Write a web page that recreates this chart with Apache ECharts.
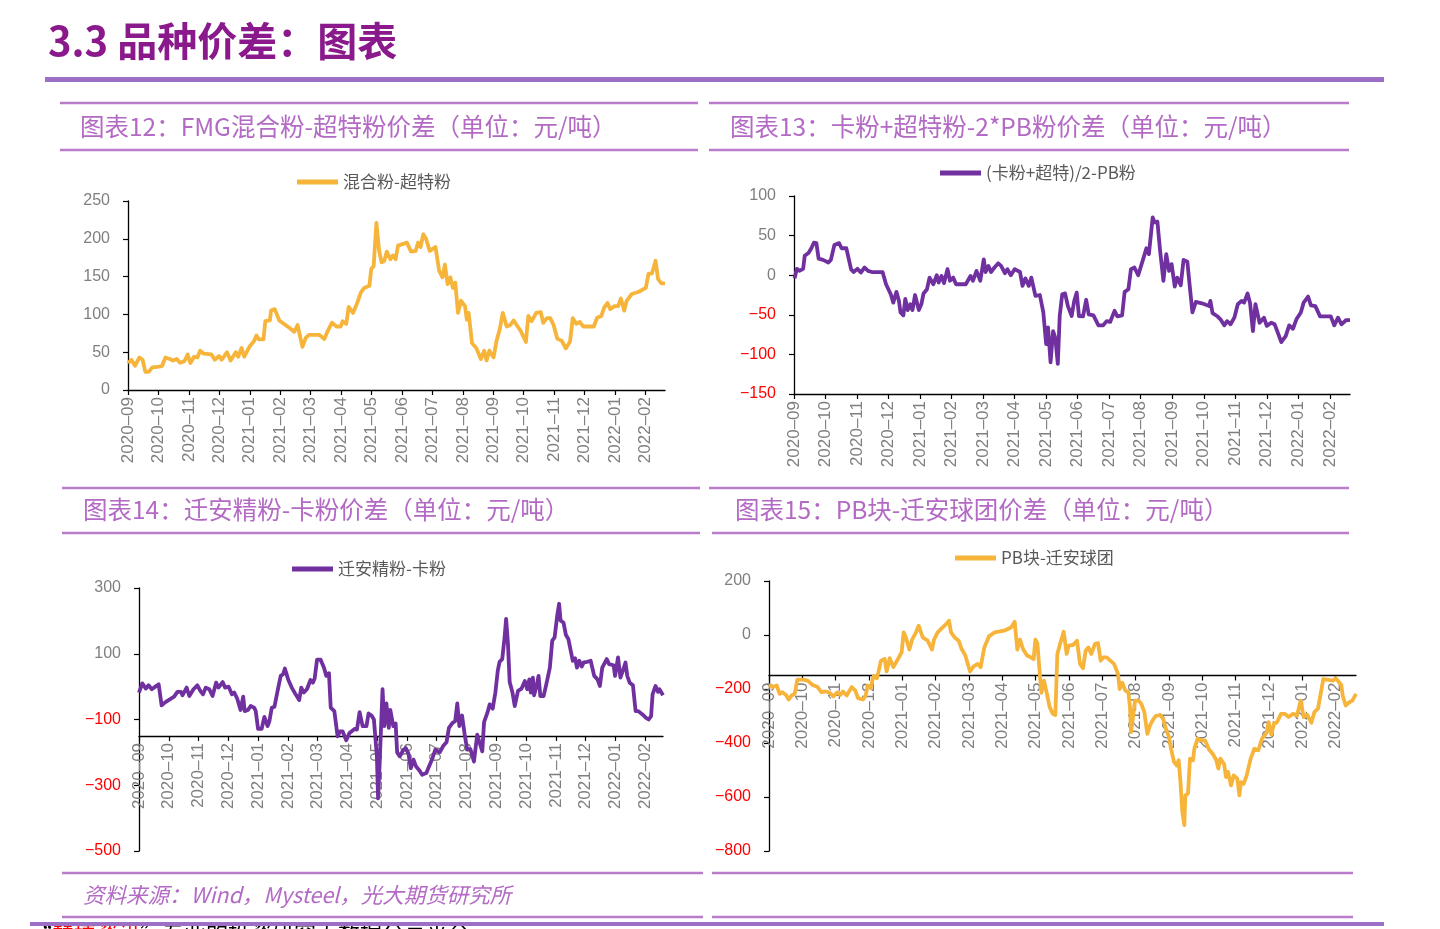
<!DOCTYPE html>
<html><head><meta charset="utf-8">
<script src="https://cdn.jsdelivr.net/npm/echarts@6/dist/echarts.min.js"></script>
<style>html,body{margin:0;padding:0;background:#fff}#c{width:1440px;height:929px}</style>
</head><body><div id="c"></div>
<script>
// ---------- data ----------
const monthLabels = ['2020-09','2020-10','2020-11','2020-12','2021-01','2021-02','2021-03','2021-04','2021-05','2021-06','2021-07','2021-08','2021-09','2021-10','2021-11','2021-12','2022-01','2022-02'];
// x = months since 2020-09-01, y = 元/吨
const mixMinusSuper = [[0,35.5],[0.11,40],[0.23,32],[0.37,43],[0.48,40],[0.57,24],[0.68,24],[0.80,30],[1.03,31],[1.12,32],[1.23,43],[1.37,41],[1.48,39],[1.60,41],[1.71,36],[1.85,38],[1.96,47],[2.05,35.5],[2.17,44],[2.28,43],[2.37,52],[2.49,48],[2.74,47],[2.85,40],[2.99,45],[3.08,40],[3.25,50],[3.37,39],[3.54,50],[3.62,44],[3.73,55.5],[3.82,44],[4.00,58],[4.13,64],[4.22,72],[4.30,67],[4.45,67],[4.51,91],[4.66,92],[4.70,105],[4.82,107],[4.97,92],[5.14,87],[5.31,82],[5.46,77],[5.57,86],[5.73,57],[5.84,69],[5.94,73],[6.28,73],[6.45,67.5],[6.56,78],[6.70,89],[6.85,84],[6.99,84],[7.05,91],[7.17,87.5],[7.25,110],[7.39,102],[7.51,113],[7.65,129],[7.76,135],[7.93,138],[7.99,160],[8.07,164],[8.16,221],[8.25,184],[8.33,169],[8.42,171],[8.50,183],[8.62,173],[8.70,178],[8.79,173],[8.87,191],[9.02,193],[9.16,195],[9.30,183],[9.45,184],[9.53,195],[9.61,189],[9.70,206],[9.79,200],[9.91,184],[10.10,189],[10.22,158],[10.33,149],[10.41,166],[10.50,140],[10.59,149],[10.67,135],[10.75,142],[10.84,102],[10.94,118],[11.07,111],[11.13,93],[11.19,102],[11.30,62],[11.44,55.5],[11.59,41],[11.70,52],[11.78,39],[11.87,52],[12.01,43],[12.10,64],[12.21,80],[12.31,102],[12.44,84],[12.56,86],[12.67,92],[12.90,78],[13.07,63.5],[13.15,98],[13.26,91],[13.41,102],[13.56,103],[13.64,89],[13.76,95],[13.87,95],[13.98,86],[14.10,68],[14.25,65],[14.38,55],[14.52,64],[14.61,95],[14.73,87.5],[14.84,90],[14.95,84],[15.30,84],[15.41,95.5],[15.55,98],[15.64,109],[15.75,115],[15.84,107],[15.98,111],[16.10,111],[16.19,121],[16.30,105],[16.38,118],[16.55,127],[16.78,130],[17.01,135],[17.10,154],[17.21,154],[17.33,171],[17.41,147],[17.52,141],[17.64,141]];
const kaSuperMinusPb = [[0.02,-4],[0.09,8],[0.17,5.5],[0.29,8],[0.34,24.5],[0.46,28],[0.55,34],[0.63,41],[0.71,40.5],[0.78,21],[0.92,19.4],[1.09,16],[1.17,19.4],[1.28,38],[1.43,40.5],[1.51,34],[1.66,34],[1.74,20],[1.81,7.6],[1.89,4],[2.01,8],[2.12,3.4],[2.24,9.7],[2.35,5.5],[2.47,4],[2.81,4],[2.92,-11.4],[3.07,-24],[3.15,-34.6],[3.25,-21],[3.33,-32.5],[3.38,-47],[3.47,-50.7],[3.53,-30],[3.61,-44],[3.69,-36.7],[3.76,-44],[3.84,-25],[3.96,-44],[4.04,-36.7],[4.11,-23],[4.22,-17.7],[4.30,-3],[4.42,-11.4],[4.53,0],[4.59,-9.3],[4.68,-1],[4.76,-10],[4.87,7.6],[4.95,-7],[5.05,-3],[5.14,-11.4],[5.45,-11.4],[5.60,-1],[5.68,-7],[5.79,5.5],[5.91,-7],[6.02,20],[6.08,4],[6.17,11.8],[6.25,4],[6.36,9.7],[6.48,15],[6.57,11.8],[6.69,2.5],[6.77,7.6],[6.88,0],[7.00,7.6],[7.17,4],[7.25,-13.5],[7.34,-4],[7.45,-13.5],[7.53,-3],[7.66,-26],[7.80,-25],[7.91,-47],[8.00,-87],[8.06,-66],[8.14,-110],[8.22,-70.5],[8.29,-79],[8.37,-112],[8.43,-51.5],[8.51,-24],[8.60,-23],[8.69,-39],[8.81,-51.5],[8.89,-32.5],[8.97,-22],[9.04,-51.5],[9.17,-52],[9.27,-31],[9.35,-49.4],[9.50,-50.7],[9.66,-63.3],[9.81,-63.3],[9.92,-58],[10.03,-59],[10.17,-45],[10.26,-52],[10.41,-50.7],[10.49,-21],[10.61,-17.7],[10.69,7.6],[10.80,9.7],[10.92,0],[11.07,19.4],[11.18,34],[11.26,26.6],[11.38,73],[11.44,66.7],[11.53,67.6],[11.61,33],[11.72,-7],[11.81,26.6],[11.90,5.5],[11.98,14],[12.08,-14.4],[12.16,-3],[12.27,-12.7],[12.36,19.4],[12.48,17],[12.56,-15.6],[12.64,-47],[12.75,-33.8],[12.94,-35.5],[13.17,-39],[13.21,-32.5],[13.28,-48],[13.42,-51.5],[13.53,-55.7],[13.65,-63.3],[13.74,-58],[13.85,-62],[13.97,-53.6],[14.08,-36.7],[14.20,-32.5],[14.28,-34.6],[14.39,-23],[14.47,-35.5],[14.56,-70.5],[14.64,-36.7],[14.77,-60],[14.91,-53.6],[15.00,-64],[15.14,-60],[15.25,-62],[15.37,-74.7],[15.46,-84.5],[15.60,-77],[15.71,-63.3],[15.83,-67.6],[15.94,-55.7],[16.08,-47],[16.17,-34.6],[16.31,-27],[16.40,-38],[16.54,-39],[16.69,-52],[17.03,-52],[17.14,-63.3],[17.26,-53.6],[17.37,-62],[17.52,-56.6],[17.64,-56.6]];
const qianAnMinusKa = [[0,-18],[0.11,10],[0.23,-6],[0.32,4],[0.43,-8],[0.55,0],[0.66,7],[0.76,-57],[0.89,-47],[1.06,-37],[1.18,-30.6],[1.29,-16],[1.41,-16],[1.46,-26.5],[1.60,-3],[1.69,-28.6],[1.83,-8],[1.96,4],[2.06,-13],[2.15,-23.5],[2.24,-3],[2.36,-8],[2.47,-28.6],[2.59,12],[2.67,-3],[2.81,14],[2.89,-3],[3.01,0],[3.12,-23.5],[3.20,-18],[3.30,-37],[3.41,-71],[3.50,-30.6],[3.55,-74.5],[3.66,-71],[3.75,-59],[3.87,-64],[3.92,-74.5],[4.00,-128.6],[4.12,-128.6],[4.21,-92],[4.32,-120],[4.38,-105],[4.46,-64],[4.55,-61],[4.67,-6],[4.76,32.7],[4.84,37.8],[4.90,55],[5.01,22],[5.13,-3],[5.26,-23.5],[5.38,-41],[5.45,-3],[5.53,-18],[5.64,-8],[5.76,20],[5.84,12],[5.90,24.5],[5.98,82],[6.10,82],[6.21,58],[6.29,32.7],[6.38,41],[6.44,-64],[6.56,-74.5],[6.67,-151],[6.75,-136],[6.84,-136],[6.96,-163],[7.07,-141],[7.24,-128.6],[7.32,-130.6],[7.41,-77.6],[7.51,-120],[7.56,-115],[7.64,-120],[7.71,-81.6],[7.81,-87.7],[7.89,-100],[7.99,-212],[8.03,-340],[8.08,-242],[8.14,-100],[8.18,-8],[8.24,-120],[8.31,-51],[8.39,-125.5],[8.44,-71],[8.54,-120],[8.62,-112],[8.67,-200],[8.76,-212],[8.88,-192],[8.96,-187],[9.05,-204],[9.13,-248],[9.22,-222],[9.30,-242],[9.42,-255],[9.51,-268],[9.65,-263],[9.73,-245],[9.84,-222],[9.95,-192],[10.10,-200],[10.22,-180],[10.33,-169],[10.41,-125.5],[10.53,-110],[10.62,-105],[10.69,-51],[10.76,-120],[10.85,-88],[10.94,-146],[11.02,-190],[11.13,-190],[11.25,-228],[11.36,-146],[11.44,-171],[11.53,-197],[11.59,-108],[11.70,-80],[11.78,-54],[11.88,-67],[11.97,-18],[12.05,48],[12.11,75.5],[12.20,83.7],[12.28,150],[12.33,206],[12.39,134.7],[12.45,14],[12.54,-16],[12.62,-59],[12.73,-13],[12.85,-6],[12.96,17],[13.04,-8],[13.11,22],[13.16,-18],[13.23,27.5],[13.27,-26.5],[13.36,4],[13.42,32.7],[13.48,-28.6],[13.59,-28.6],[13.68,7],[13.80,58],[13.88,140],[13.96,150],[14.05,218],[14.11,252],[14.16,201],[14.26,194],[14.34,157],[14.42,145],[14.57,78.6],[14.65,86],[14.71,58],[14.79,78.6],[14.87,61],[14.94,73.5],[15.06,75.5],[15.17,78.6],[15.29,32.7],[15.40,22],[15.48,2],[15.56,58],[15.71,83.7],[15.79,68.4],[15.94,65],[15.99,32.7],[16.09,89],[16.17,27.5],[16.25,48],[16.34,73.5],[16.40,32.7],[16.48,12],[16.59,4],[16.68,-74.5],[16.77,-74.5],[16.91,-84.7],[17.03,-95],[17.12,-100],[17.20,-90],[17.25,-23.5],[17.35,2],[17.43,-16],[17.48,-8],[17.60,-26.5]];
const pbMinusPellet = [[0,-185],[0.11,-193],[0.23,-187],[0.32,-218],[0.40,-212],[0.51,-222],[0.59,-239],[0.68,-224],[0.77,-218],[0.85,-165],[1.02,-165],[1.16,-169],[1.31,-185],[1.46,-193],[1.57,-212],[1.71,-209],[1.82,-214],[1.93,-227],[2.05,-212],[2.14,-222],[2.22,-209],[2.33,-224],[2.48,-193],[2.59,-206],[2.67,-234],[2.82,-239],[2.90,-224],[2.96,-187],[3.05,-197],[3.13,-153],[3.24,-160],[3.36,-95],[3.47,-89],[3.53,-135],[3.62,-86],[3.73,-119],[3.87,-89],[3.98,-64],[4.04,10],[4.12,-15],[4.21,-54],[4.30,-15],[4.41,10],[4.49,34.5],[4.61,-9],[4.76,-21],[4.89,-54],[4.95,-17],[5.06,10],[5.21,28],[5.32,41],[5.40,53],[5.46,10],[5.57,-9],[5.69,-21],[5.78,-52],[5.89,-76],[6.03,-135],[6.14,-116],[6.26,-107],[6.35,-119],[6.46,-46],[6.60,-5],[6.77,10],[7.05,16],[7.26,28],[7.37,49],[7.45,-54],[7.53,-17],[7.62,-52],[7.74,-76],[7.85,-82.5],[7.94,-89],[7.99,-17],[8.05,-30],[8.17,-214],[8.25,-169],[8.33,-214],[8.42,-267],[8.51,-292],[8.59,-296],[8.65,-70],[8.76,-21],[8.84,12],[8.93,-70],[8.99,-39],[9.12,-37],[9.24,-21],[9.33,-107],[9.42,-123],[9.50,-58],[9.58,-46],[9.67,-70],[9.78,-33],[9.87,-30],[9.95,-95],[10.03,-82.5],[10.13,-82.5],[10.24,-95],[10.35,-107],[10.47,-144],[10.52,-200],[10.60,-177],[10.69,-206],[10.78,-212],[10.83,-267],[10.86,-360],[10.92,-305],[10.98,-243],[11.09,-243],[11.17,-255],[11.26,-286],[11.35,-366],[11.43,-335],[11.51,-316],[11.60,-300],[11.74,-296],[11.83,-313],[11.92,-353],[12.00,-378],[12.06,-421],[12.15,-470],[12.23,-483],[12.29,-464],[12.34,-538],[12.40,-655],[12.46,-704],[12.49,-594],[12.57,-587],[12.63,-458],[12.72,-464],[12.76,-421],[12.86,-384],[12.97,-390],[13.08,-390],[13.20,-424],[13.31,-440],[13.42,-464],[13.48,-495],[13.54,-458],[13.65,-477],[13.71,-526],[13.77,-507],[13.86,-557],[13.94,-520],[14.05,-532],[14.11,-594],[14.16,-545],[14.24,-551],[14.33,-520],[14.45,-458],[14.56,-421],[14.68,-427],[14.79,-384],[14.93,-362],[14.99,-323],[15.07,-369],[15.15,-329],[15.24,-323],[15.36,-292],[15.47,-292],[15.59,-304],[15.72,-292],[15.84,-298],[15.95,-243],[16.04,-304],[16.15,-296],[16.27,-325],[16.36,-286],[16.47,-273],[16.55,-218],[16.63,-163],[16.78,-166],[16.92,-169],[17.00,-160],[17.06,-153],[17.17,-185],[17.21,-224],[17.30,-261],[17.41,-249],[17.50,-243],[17.61,-218]];

const seriesNames = ['混合粉-超特粉','(卡粉+超特)/2-PB粉','迁安精粉-卡粉','PB块-迁安球团'];
const panelTitles = ['图表12：FMG混合粉-超特粉价差（单位：元/吨）','图表13：卡粉+超特粉-2*PB粉价差（单位：元/吨）','图表14：迁安精粉-卡粉价差（单位：元/吨）','图表15：PB块-迁安球团价差（单位：元/吨）'];
const yRanges = [[0,250,50],[-150,100,50],[-500,300,200],[-800,200,200]];
const xCrossAt = [null,null,-150,-150];
const pageTitle = '3.3 品种价差：图表';
const sourceNote = '资料来源：Wind，Mysteel，光大期货研究所';

// ---------- style / layout ----------
const ORANGE = '#f6b43a', PURPLE = '#7030a0';
const colors = [ORANGE, PURPLE, PURPLE, ORANGE];
const grids = [
  {left:128, top:201, width:537, height:189},
  {left:794, top:196, width:556, height:198},
  {left:139, top:588, width:524, height:263},
  {left:769, top:581, width:587, height:270}
];
const legendPos = [[297,182],[940,173],[292,569],[955,558]];
const NUM_FONT = '"Liberation Sans", Arial, sans-serif';
const CJK_FONT = '"Noto Sans CJK SC", "Noto Sans", sans-serif';
const GRAY = '#7f7f7f';
const RULE = '#b87ccb';
const TITLE_C = '#b36ac4';
const monthTicks = monthLabels.map((_, i) => i);

const xAxes = grids.map((g, i) => {
  const r = yRanges[i];
  const off = xCrossAt[i] === null ? 0 : -g.height * (xCrossAt[i] - r[0]) / (r[1] - r[0]);
  return {
    type:'value', gridIndex:i, min:0, max:'dataMax', interval:1, position:'bottom', offset:off,
    axisLine:{show:true, onZero:false, lineStyle:{color:'#000', width:1.3}},
    axisTick:{show:true, customValues:monthTicks, length:5, lineStyle:{color:'#000', width:1.2}},
    axisLabel:{customValues:monthTicks, rotate:90, margin:7, color:GRAY, fontSize:17, fontFamily:NUM_FONT,
      formatter: v => (monthLabels[Math.round(v)] || '').replace('-', '\u2013')},
    splitLine:{show:false}
  };
});
const yAxes = grids.map((g, i) => ({
  type:'value', gridIndex:i, min:yRanges[i][0], max:yRanges[i][1], interval:yRanges[i][2],
  axisLine:{show:true, onZero:false, lineStyle:{color:'#000', width:1.3}},
  axisTick:{show:true, length:5, lineStyle:{color:'#000', width:1.2}},
  splitLine:{show:false},
  axisLabel:{margin:18, color:GRAY, fontSize:16, fontFamily:NUM_FONT,
    formatter: v => v < 0 ? '{neg|\u2212' + Math.abs(v) + '}' : String(v),
    rich:{neg:{color:'#ff0000', fontSize:16, fontFamily:NUM_FONT}}}
}));
const dataSets = [mixMinusSuper, kaSuperMinusPb, qianAnMinusKa, pbMinusPellet];
const series = dataSets.map((d, i) => ({
  type:'line', name:seriesNames[i], xAxisIndex:i, yAxisIndex:i, data:d,
  showSymbol:false, symbol:'none', lineStyle:{color:colors[i], width:3.8, join:'round'},
  itemStyle:{color:colors[i]}, animation:false
}));
const legends = legendPos.map((p, i) => ({
  data:[seriesNames[i]], left:p[0], top:p[1] - 10, padding:0, icon:'rect', itemWidth:41, itemHeight:5, itemGap:5,
  textStyle:{color:'#595959', fontSize:17, fontFamily:CJK_FONT, lineHeight:20}
}));

function hline(x1, x2, y, color, w) {
  return {type:'line', shape:{x1, y1:y, x2, y2:y}, style:{stroke:color, lineWidth:w}, silent:true};
}
const TFONT = '24.5px ' + CJK_FONT;
const graphics = [
  {type:'text', style:{x:48, y:41, text:pageTitle, font:'bold 40px ' + CJK_FONT, fill:'#8a1a8c', verticalAlign:'middle'}},
  {type:'rect', shape:{x:45, y:77, width:1339, height:5}, style:{fill:'#9b6fc6'}},
  hline(60, 698, 103, RULE, 2.5), hline(709, 1349, 103, RULE, 2.5),
  hline(60, 698, 150, RULE, 2.5), hline(709, 1349, 150, RULE, 2.5),
  hline(62, 700, 488, RULE, 2.5), hline(709, 1349, 488, RULE, 2.5),
  hline(62, 700, 533, RULE, 2.5), hline(712, 1349, 533, RULE, 2.5),
  hline(62, 703, 873, RULE, 2.5), hline(712, 1353, 873, RULE, 2.5),
  hline(62, 703, 917, RULE, 2.5), hline(712, 1353, 917, RULE, 2.5),
  {type:'text', style:{x:80, y:127, text:panelTitles[0], font:TFONT, fill:TITLE_C, verticalAlign:'middle'}},
  {type:'text', style:{x:730, y:127, text:panelTitles[1], font:TFONT, fill:TITLE_C, verticalAlign:'middle'}},
  {type:'text', style:{x:83, y:510, text:panelTitles[2], font:TFONT, fill:TITLE_C, verticalAlign:'middle'}},
  {type:'text', style:{x:735, y:510, text:panelTitles[3], font:TFONT, fill:TITLE_C, verticalAlign:'middle'}},
  {type:'text', style:{x:83, y:895, text:sourceNote, font:'italic 21.5px ' + CJK_FONT, fill:TITLE_C, verticalAlign:'middle'}},
  {type:'text', style:{x:30, y:922, text:'{k|“}{r|慧博资讯}{k|”专业的投资研究大数据分享平台}', font:'22px ' + CJK_FONT, verticalAlign:'top',
    rich:{k:{fill:'#000', font:'22px ' + CJK_FONT}, r:{fill:'#ff0000', font:'22px ' + CJK_FONT}}}},
  {type:'rect', shape:{x:30, y:922, width:1354, height:4}, style:{fill:'#9b6fc6'}}
];

const chart = echarts.init(document.getElementById('c'), null, {renderer:'canvas', width:1440, height:929});
chart.setOption({
  animation:false,
  backgroundColor:'#fff',
  grid: grids.map(g => Object.assign({containLabel:false}, g)),
  xAxis: xAxes, yAxis: yAxes, series, legend: legends, graphic: graphics
});
</script></body></html>
